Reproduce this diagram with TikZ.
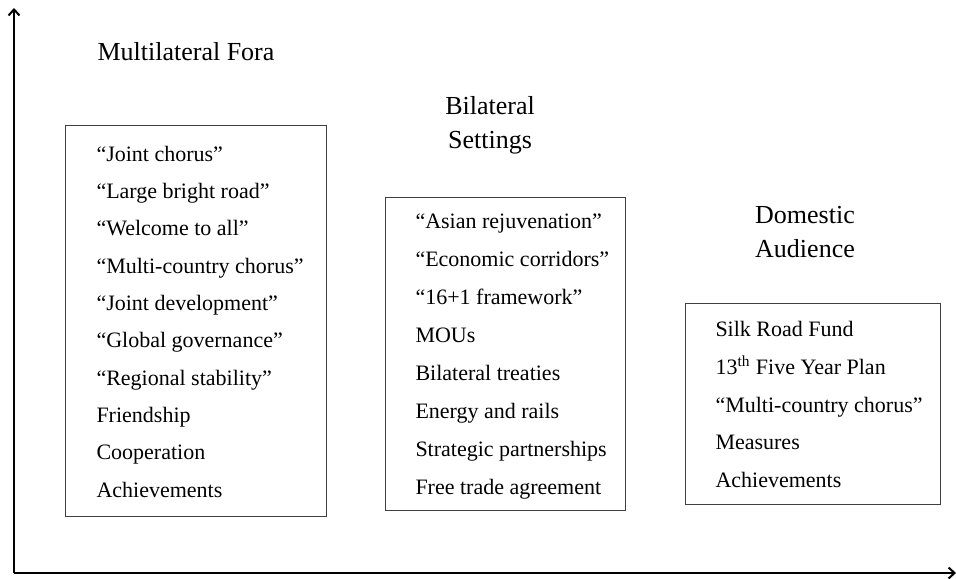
\documentclass[tikz,border=0pt]{standalone}
\usepackage{fontspec}
\setmainfont{Liberation Serif}
\usetikzlibrary{arrows.meta}
\begin{document}
\begin{tikzpicture}[x=0.5pt,y=-0.5pt]
	\useasboundingbox (0,0) rectangle (956,578);
	\begin{scope}[line width=0.5pt]
		\tikzstyle{every node}=[inner sep=0pt,anchor=base west,font=\fontsize{11}{13}\selectfont];
		\tikzstyle{heading}=[anchor=center,align=center,font=\fontsize{13}{16}\selectfont];
		% axes
		\coordinate (orig) at (14,573);
		\coordinate (ytop) at (14,8);
		\coordinate (xend) at (956,573);
		\draw[line width=1pt,-{Straight Barb[length=3pt,width=5.5pt]}] (orig) -- (ytop);
		\draw[line width=1pt,-{Straight Barb[length=3pt,width=5.5pt]}] (orig) -- (xend);
		% headings
		\path (97,52) node [heading,anchor=west] (multi) {Multilateral Fora};
		\path (490,125) node [heading] (bilat) {Bilateral\\[1pt]Settings};
		\path (805,232) node [heading] (domes) {Domestic\\[1pt]Audience};
		% boxes
		\draw[black!75] (65,125) rectangle (326,516);
		\draw[black!75] (385,197) rectangle (625,510);
		\draw[black!75] (685,303) rectangle (940,504);
		% multilateral fora
		\path (96,161) node (m1)  {“Joint chorus”};
		\path (96,198) node (m2)  {“Large bright road”};
		\path (96,235) node (m3)  {“Welcome to all”};
		\path (96,273) node (m4)  {“Multi-country chorus”};
		\path (96,310) node (m5)  {“Joint development”};
		\path (96,347) node (m6)  {“Global governance”};
		\path (96,385) node (m7)  {“Regional stability”};
		\path (96,422) node (m8)  {Friendship};
		\path (96,459) node (m9)  {Cooperation};
		\path (96,497) node (m10) {Achievements};
		% bilateral settings
		\path (415,228) node (b1) {“Asian rejuvenation”};
		\path (415,266) node (b2) {“Economic corridors”};
		\path (415,304) node (b3) {“16+1 framework”};
		\path (415,342) node (b4) {MOUs};
		\path (415,380) node (b5) {Bilateral treaties};
		\path (415,418) node (b6) {Energy and rails};
		\path (415,456) node (b7) {Strategic partnerships};
		\path (415,494) node (b8) {Free trade agreement};
		% domestic audience
		\path (715,336) node (d1) {Silk Road Fund};
		\path (715,374) node (d2) {13\textsuperscript{th} Five Year Plan};
		\path (715,412) node (d3) {“Multi-country chorus”};
		\path (715,449) node (d4) {Measures};
		\path (715,487) node (d5) {Achievements};
	\end{scope}
\end{tikzpicture}
\end{document}
